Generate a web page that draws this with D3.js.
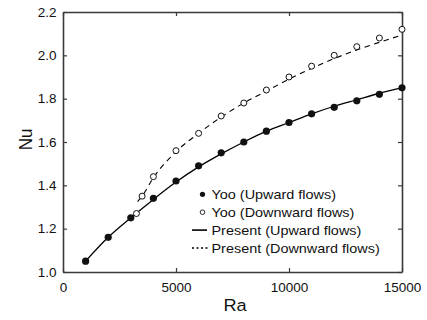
<!DOCTYPE html>
<html><head><meta charset="utf-8">
<script src="https://cdn.jsdelivr.net/npm/d3@7"></script>
<style>body{margin:0;background:#fff}svg{display:block}text{font-family:"Liberation Sans",Arial,sans-serif}</style>
</head><body><svg id="c" width="427" height="320"></svg>
<script>
const raUp = [1000,2000,3000,4000,5000,6000,7000,8000,9000,10000,11000,12000,13000,14000,15000];
const nuUp = [1.05,1.16,1.25,1.34,1.42,1.49,1.55,1.60,1.65,1.69,1.73,1.76,1.79,1.82,1.85];
const raDown = [3250,3500,4000,5000,6000,7000,8000,9000,10000,11000,12000,13000,14000,15000];
const nuDown = [1.27,1.35,1.44,1.56,1.64,1.72,1.78,1.84,1.90,1.95,2.00,2.04,2.08,2.12];
const raLineUp = [1000,2000,3000,4000,5000,6000,7000,8000,9000,10000,11000,12000,13000,14000,15000];
const nuLineUp = [1.05,1.16,1.25,1.335,1.415,1.485,1.545,1.60,1.65,1.69,1.73,1.765,1.795,1.825,1.85];
const raLineDown = [3300,3500,4000,5000,6000,7000,8000,9000,10000,11000,12000,13000,14000,15000];
const nuLineDown = [1.325,1.35,1.435,1.555,1.64,1.715,1.78,1.835,1.89,1.94,1.985,2.025,2.06,2.094];
const xTicks = [0,5000,10000,15000];
const yTicks = [1.0,1.2,1.4,1.6,1.8,2.0,2.2];
const legendLabels = ["Yoo (Upward flows)","Yoo (Downward flows)","Present (Upward flows)","Present (Downward flows)"];

const svg = d3.select("#c");
const L=63,R=402,T=12,B=272;
const x = d3.scaleLinear().domain([0,15000]).range([L,R]);
const y = d3.scaleLinear().domain([1.0,2.2]).range([B,T]);
const axisCol="#3a3a3a";

// axes
const gx = svg.append("g").attr("transform",`translate(0,${B})`)
  .call(d3.axisBottom(x).tickValues(xTicks).tickSizeInner(-4).tickSizeOuter(0).tickPadding(10.5).tickFormat(d3.format("d")));
const gy = svg.append("g").attr("transform",`translate(${L},0)`)
  .call(d3.axisLeft(y).tickValues(yTicks).tickSizeInner(-4).tickSizeOuter(0).tickPadding(6.5).tickFormat(d3.format(".1f")));
const gt = svg.append("g").attr("transform",`translate(0,${T})`)
  .call(d3.axisTop(x).tickValues(xTicks).tickSizeInner(-4).tickSizeOuter(0).tickFormat(""));
const gr = svg.append("g").attr("transform",`translate(${R},0)`)
  .call(d3.axisRight(y).tickValues(yTicks).tickSizeInner(-4).tickSizeOuter(0).tickFormat(""));
[gx,gy,gt,gr].forEach(g=>{
  g.selectAll(".domain").attr("stroke",axisCol).attr("stroke-width",1.6);
  g.selectAll(".tick line").attr("stroke",axisCol).attr("stroke-width",1.2);
  g.selectAll(".tick text").attr("fill","#111").style("font-size","13.5px").style("font-family",'"Liberation Sans",Arial,sans-serif');
});

svg.append("text").attr("transform","translate(235,311) scale(1.1,1)").attr("text-anchor","middle").style("font-size","16.5px").attr("fill","#111").text("Ra");
svg.append("text").attr("transform","translate(31.5,139.5) rotate(-90) scale(1,1.1)").attr("text-anchor","middle").style("font-size","17px").attr("fill","#111").text("Nu");

// lines
const line = d3.line().x(d=>x(d[0])).y(d=>y(d[1])).curve(d3.curveMonotoneX);
svg.append("path").datum(raLineUp.map((r,i)=>[r,nuLineUp[i]])).attr("d",line)
  .attr("fill","none").attr("stroke","#000").attr("stroke-width",1.3);
svg.append("path").datum(raLineDown.map((r,i)=>[r,nuLineDown[i]])).attr("d",line)
  .attr("fill","none").attr("stroke","#000").attr("stroke-width",1.1).attr("stroke-dasharray","5.5,4.5");

// points
svg.append("g").selectAll("circle").data(raUp.map((r,i)=>[r,nuUp[i]])).join("circle")
  .attr("cx",d=>x(d[0])).attr("cy",d=>y(d[1])).attr("r",3.6).attr("fill","#111");
svg.append("g").selectAll("circle").data(raDown.map((r,i)=>[r,nuDown[i]])).join("circle")
  .attr("cx",d=>x(d[0])).attr("cy",d=>y(d[1])).attr("r",3).attr("fill","#fff").attr("stroke","#111").attr("stroke-width",1);

// legend
const lg = svg.append("g");
const ly0=194.3, ldy=17.9, lx=202.5, tx=211.5;
legendLabels.forEach((t,i)=>{
  const yy = ly0+i*ldy;
  lg.append("text").attr("transform",`translate(${tx},${yy}) scale(1.11,1)`).attr("dy","0.35em").style("font-size","13px").attr("fill","#111").text(t);
});
lg.append("circle").attr("cx",lx).attr("cy",ly0).attr("r",2.6).attr("fill","#111");
lg.append("circle").attr("cx",lx).attr("cy",ly0+ldy).attr("r",2.3).attr("fill","#fff").attr("stroke","#111").attr("stroke-width",0.9);
lg.append("line").attr("x1",192).attr("x2",207).attr("y1",ly0+2*ldy).attr("y2",ly0+2*ldy).attr("stroke","#000").attr("stroke-width",1.6);
lg.append("line").attr("x1",192).attr("x2",208).attr("y1",ly0+3*ldy).attr("y2",ly0+3*ldy).attr("stroke","#000").attr("stroke-width",1.6).attr("stroke-dasharray","2,2.5");
</script></body></html>
